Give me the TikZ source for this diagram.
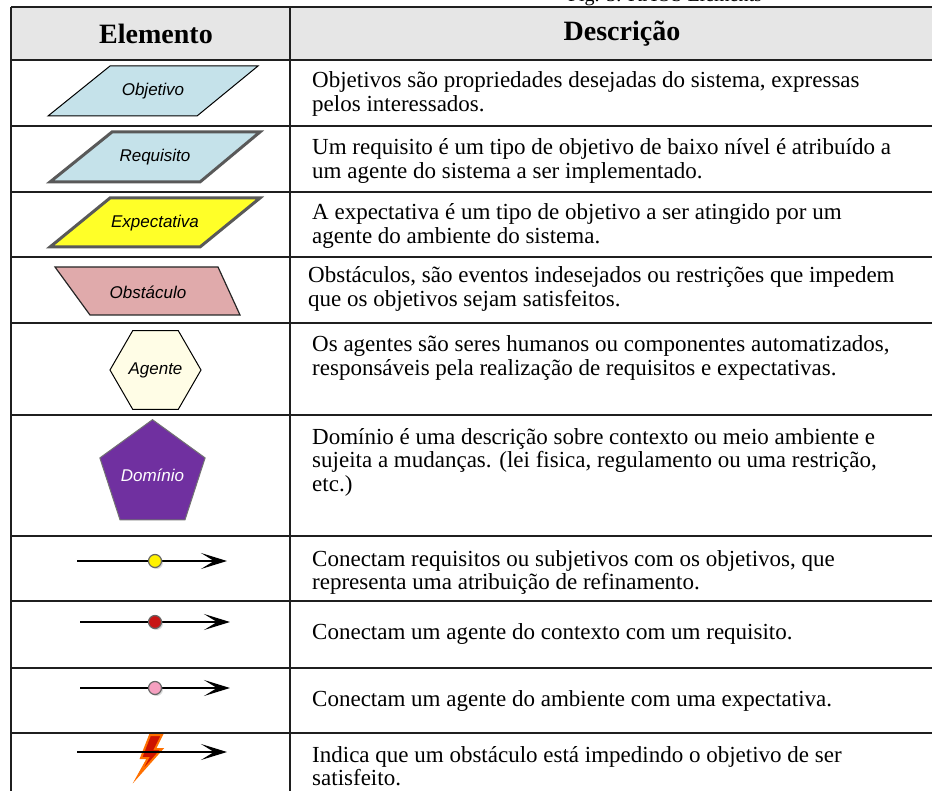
\documentclass[tikz,border=0pt]{standalone}
\usepackage{fontspec}
\setmainfont{Liberation Serif}
\setsansfont{Liberation Sans}
\usetikzlibrary{shapes.geometric, arrows.meta, shadows}
\definecolor{headgray}{RGB}{230,230,230}
\definecolor{goalblue}{RGB}{197,226,234}
\definecolor{expyellow}{RGB}{255,255,40}
\definecolor{obspink}{RGB}{224,170,171}
\definecolor{agentivory}{RGB}{255,253,230}
\definecolor{dompurple}{RGB}{112,48,160}
\definecolor{dotred}{RGB}{200,20,20}
\definecolor{dotpink}{RGB}{245,160,192}
\definecolor{boltred}{RGB}{205,20,0}
\definecolor{boltorange}{RGB}{255,112,0}

\begin{document}
\begin{tikzpicture}[x=1pt, y=-1pt,
        grid/.style = {line width=2.4pt, draw=black!88},
        head/.style = {font=\fontsize{28}{30}\selectfont\bfseries},
        desc/.style = {anchor=base west, align=left, inner sep=0pt,
                       font=\fontsize{23}{23.5}\selectfont},
        elem/.style = {font=\sffamily\itshape\fontsize{17}{17}\selectfont},
        link/.style = {line width=2.3pt,
                       -{Stealth[length=26pt, width=16pt, inset=13pt]}},
         dot/.style = {circle, draw=black!60, line width=1.2pt,
                       minimum size=13pt, inner sep=0pt,
                       drop shadow={shadow xshift=1.5pt, shadow yshift=-1.5pt, opacity=.3}}
                        ]
\useasboundingbox (0,0) rectangle (932,791);
\clip (0,0) rectangle (932,791);
% caption (cut by the page)
\node[anchor=base, font=\fontsize{20}{20}\selectfont] (cap) at (665,2) {Fig. 3. KAOS Elements};
% table
\fill[headgray] (11,7) rectangle (945,60);
\foreach \y in {7,60,126,192,257,323,415,536,601,668,733}
    \draw[grid] (11,\y) -- (945,\y);
\draw[grid] (11,7) -- (11,800);
\draw[grid] (290,7) -- (290,800);
\node[head] (helem) at (156,34) {Elemento};
\node[head] (hdesc) at (622,34) {Descrição};
% elements
\draw[fill=goalblue, line width=1pt] (48,116) -- (110,66) -- (258,66) -- (197,116) -- cycle;
\node[elem] (goal) at (153,91) {Objetivo};
\draw[fill=goalblue, draw=black!65, line width=3pt] (50,182) -- (112,132) -- (260,132) -- (200,182) -- cycle;
\node[elem] (req) at (155,157) {Requisito};
\draw[fill=expyellow, draw=black!65, line width=3pt] (50,247) -- (110,198) -- (260,198) -- (200,247) -- cycle;
\node[elem] (expec) at (155,223) {Expectativa};
\draw[fill=obspink, draw=black!85, line width=1.2pt] (55,267) -- (218,267) -- (240,315) -- (90,315) -- cycle;
\node[elem] (obst) at (148,292) {Obstáculo};
\node[regular polygon, regular polygon sides=6, minimum size=91pt, inner sep=0pt,
      fill=agentivory, draw=black, line width=1pt, elem] (agent) at (155.5,370) {Agente};
\node[regular polygon, regular polygon sides=5, minimum size=98pt, inner sep=0pt,
      fill=dompurple, draw=black!55, line width=1pt, elem, text=white] (dom) at (152.5,475) {Domínio};
% links
\coordinate (refA) at (77,561);  \coordinate (refB) at (227,561);
\coordinate (respA) at (80,622); \coordinate (respB) at (230,622);
\coordinate (perfA) at (80,688); \coordinate (perfB) at (230,688);
\coordinate (obstA) at (77,752); \coordinate (obstB) at (227,752);
\draw[link] (refA) -- (refB) node[dot, fill=yellow, pos=0.52] (refdot) {};
\draw[link] (respA) -- (respB) node[dot, fill=dotred, pos=0.5] (respdot) {};
\draw[link] (perfA) -- (perfB) node[dot, fill=dotpink, pos=0.5] (perfdot) {};
\draw[fill=boltred, draw=boltorange, line width=2pt, line join=miter, shift={(150,756)}]
    (0,-21) -- (12,-21) -- (5,-7) -- (12,-7) -- (-12,20) -- (-2,2) -- (-9,2) -- cycle;
\draw[link] (obstA) -- (obstB);
% descriptions (base = last line)
\node[desc] (d1) at (312,111.5) {Objetivos são propriedades desejadas do sistema, expressas\\pelos interessados.};
\node[desc] (d2) at (312,178.5) {Um requisito é um tipo de objetivo de baixo nível é atribuído a\\um agente do sistema a ser implementado.};
\node[desc] (d3) at (312,243.5) {A expectativa é um tipo de objetivo a ser atingido por um\\agente do ambiente do sistema.};
\node[desc] (d4) at (308,306.5) {Obstáculos, são eventos indesejados ou restrições que impedem\\que os objetivos sejam satisfeitos.};
\node[desc] (d5) at (312,375.5) {Os agentes são seres humanos ou componentes automatizados,\\responsáveis pela realização de requisitos e expectativas.};
\node[desc] (d6) at (312,491) {Domínio é uma descrição sobre contexto ou meio ambiente e\\sujeita a mudanças. (lei fisica, regulamento ou uma restrição,\\etc.)};
\node[desc] (d7) at (312,589.5) {Conectam requisitos ou subjetivos com os objetivos, que\\representa uma atribuição de refinamento.};
\node[desc] (d8) at (312,639) {Conectam um agente do contexto com um requisito.};
\node[desc] (d9) at (312,706) {Conectam um agente do ambiente com uma expectativa.};
\node[desc] (d10) at (312,785.5) {Indica que um obstáculo está impedindo o objetivo de ser\\satisfeito.};
\end{tikzpicture}
\end{document}
